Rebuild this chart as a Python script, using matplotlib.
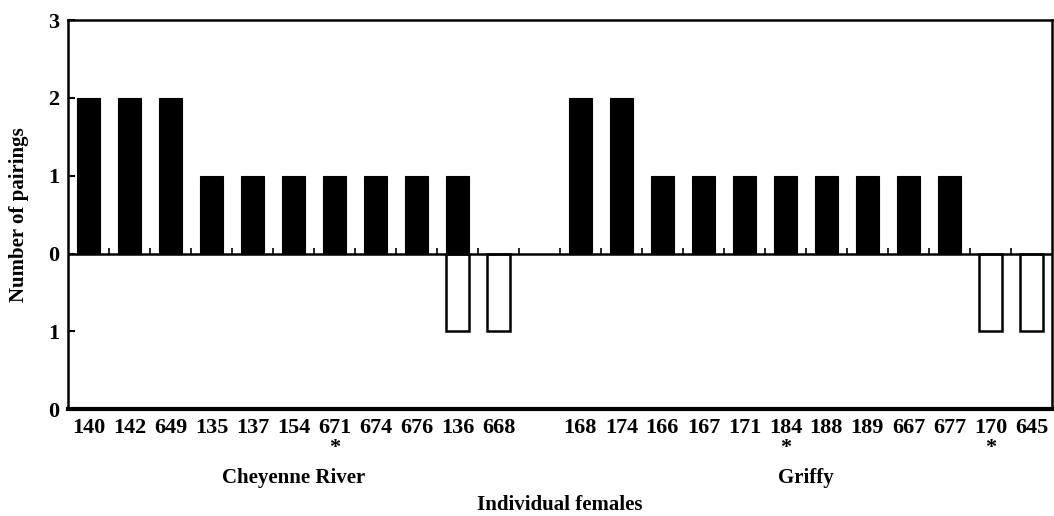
import matplotlib.pyplot as plt
import numpy as np

# Hembras individuales de cada población
cheyenne = ['140', '142', '649', '135', '137', '154', '671', '674', '676', '136', '668']
griffy = ['168', '174', '166', '167', '171', '184', '188', '189', '667', '677', '170', '645']

# Parejas por encima (barras negras) y por debajo (barras blancas) de la línea cero
cheyenne_up = [2, 2, 2, 1, 1, 1, 1, 1, 1, 1, 0]
cheyenne_down = [0, 0, 0, 0, 0, 0, 0, 0, 0, 1, 1]
griffy_up = [2, 2, 1, 1, 1, 1, 1, 1, 1, 1, 0, 0]
griffy_down = [0, 0, 0, 0, 0, 0, 0, 0, 0, 0, 1, 1]

# Hembras marcadas con asterisco
starred = ['671', '184', '170']

ytick_vals = [-2, -1, 0, 1, 2, 3]
ytick_labels = ['0', '1', '0', '1', '2', '3']

plt.rcParams['font.family'] = ['Liberation Serif', 'DejaVu Serif']
plt.rcParams['font.weight'] = 'bold'

names = cheyenne + griffy
up = np.array(cheyenne_up + griffy_up)
down = np.array(cheyenne_down + griffy_down)
x = np.concatenate([np.arange(len(cheyenne)), np.arange(len(griffy)) + len(cheyenne) + 1])

fig = plt.figure(figsize=(10.54, 5.16), dpi=100)
ax = fig.add_axes([0.0645, 0.207, 0.9335, 0.754])

ax.bar(x, up, width=0.56, color='black', edgecolor='black', linewidth=0.8)
mask = down > 0
ax.bar(x[mask], -down[mask], width=0.56, color='white', edgecolor='black', linewidth=1.8)

# línea cero con pequeñas marcas entre barras
ax.axhline(0, color='black', lw=1.8, zorder=3)
ax.vlines(np.arange(0.5, x[-1], 1), 0, 0.07, color='black', lw=1.2, zorder=3)

ax.set_xlim(-0.5, x[-1] + 0.5)
ax.set_ylim(-2, 3)
ax.set_yticks(ytick_vals)
ax.set_yticklabels(ytick_labels, fontsize=16, fontweight='bold')
ax.tick_params(axis='y', direction='in', length=5, width=1.5, pad=6)

ax.set_xticks(x)
ax.set_xticklabels(names, fontsize=16, fontweight='bold')
ax.tick_params(axis='x', length=0, pad=6)

for s in ['top', 'left', 'right']:
    ax.spines[s].set_linewidth(1.8)
ax.spines['bottom'].set_linewidth(3)

# asteriscos bajo las hembras marcadas
for name in starred:
    i = names.index(name)
    ax.annotate('*', xy=(x[i], 0), xycoords=('data', 'axes fraction'),
                xytext=(0, -28), textcoords='offset points', ha='center',
                va='center', fontsize=16, fontweight='bold')

# nombres de las poblaciones
ax.annotate('Cheyenne River', xy=(np.mean(x[:len(cheyenne)]), 0),
            xycoords=('data', 'axes fraction'), xytext=(0, -42),
            textcoords='offset points', ha='center', va='top', fontsize=15,
            fontweight='bold')
ax.annotate('Griffy', xy=(np.mean(x[len(cheyenne):]), 0),
            xycoords=('data', 'axes fraction'), xytext=(0, -42),
            textcoords='offset points', ha='center', va='top', fontsize=15,
            fontweight='bold')

fig.text(0.531, 0.022, 'Individual females', ha='center', va='center', fontsize=15,
         fontweight='bold')
ax.set_ylabel('Number of pairings', fontsize=15, fontweight='bold', labelpad=14)

fig.savefig('out.png', dpi=100)
